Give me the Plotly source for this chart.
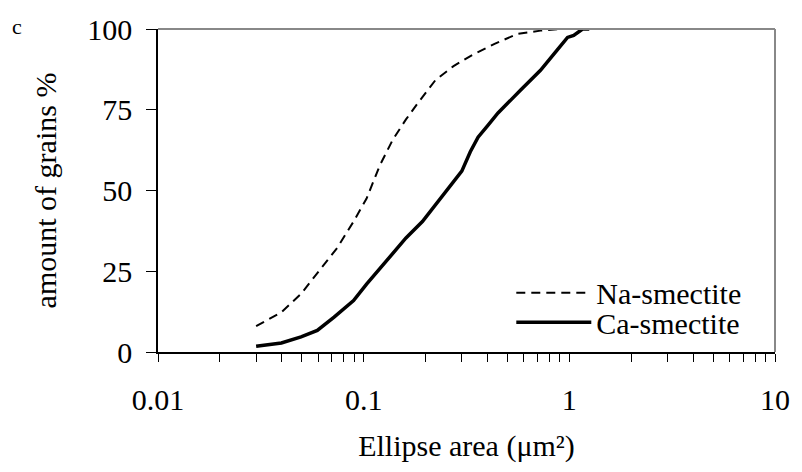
import plotly.graph_objects as go

# Data
na_x = [0.030, 0.0398, 0.0496, 0.0618, 0.0743, 0.0893, 0.1033, 0.1197, 0.1387, 0.1606,
        0.183, 0.2235, 0.2735, 0.338, 0.433, 0.56, 0.724, 0.9, 1.05]
na_y = [8, 12.3, 18, 25.6, 32.2, 40.4, 47.5, 57.7, 65.8, 72,
        77, 84.2, 88.5, 92, 95.4, 98.5, 99.5, 100, 100]

ca_x = [0.030, 0.0398, 0.0496, 0.0595, 0.0718, 0.0893, 0.1033, 0.1289, 0.1606, 0.193,
        0.2235, 0.2786, 0.30, 0.33, 0.36, 0.40, 0.45, 0.58, 0.724, 0.87,
        0.98, 1.05, 1.16, 1.25]
ca_y = [1.8, 2.8, 4.7, 6.7, 10.8, 15.9, 21, 28.1, 35.3, 40.4,
        45.5, 53, 56, 62, 66.5, 70, 74, 81.1, 87.2, 93.4,
        97.4, 98, 100, 100]

x_ticks = [0.01, 0.1, 1, 10]
x_tick_text = ["0.01", "0.1", "1", "10"]
y_ticks = [0, 25, 50, 75, 100]

FONT = "Liberation Serif"
FS = 30

fig = go.Figure()
fig.add_trace(go.Scatter(x=na_x, y=na_y, mode="lines", name="Na-smectite", legend="legend",
                         line=dict(color="black", width=2, dash="9px,6px")))
fig.add_trace(go.Scatter(x=ca_x, y=ca_y, mode="lines", name="Ca-smectite", legend="legend2",
                         line=dict(color="black", width=3.5)))

leg_common = dict(xanchor="left", yanchor="middle", bgcolor="rgba(0,0,0,0)",
                  itemwidth=75, font=dict(family=FONT, size=FS, color="black"))

fig.update_layout(
    width=802, height=472,
    margin=dict(l=158, r=17, t=25, b=120),
    paper_bgcolor="white", plot_bgcolor="white",
    font=dict(family=FONT, size=FS, color="black"),
    showlegend=True,
    legend=dict(x=0.5726, y=(352 - 292) / 327, **leg_common),
    legend2=dict(x=0.5726, y=(352 - 322) / 327, **leg_common),
    xaxis=dict(type="log", range=[-2, 1], tickvals=x_ticks, ticktext=x_tick_text,
               ticks="outside", ticklen=8, tickcolor="black", tickwidth=1,
               showline=True, linecolor="black", linewidth=1.5, mirror=False,
               showgrid=False, zeroline=False, ticklabelstandoff=12,
               minor=dict(ticks="outside", ticklen=8, tickcolor="black", dtick="D1", showgrid=False),
               title=dict(text="Ellipse area (μm²)", font=dict(family=FONT, size=FS), standoff=20)),
    yaxis=dict(range=[0, 100], tickvals=y_ticks,
               ticks="outside", ticklen=10, tickcolor="black", tickwidth=1,
               showline=True, linecolor="black", linewidth=1.5, mirror=False,
               showgrid=False, zeroline=False, ticklabelstandoff=8,
               title=dict(text="amount of grains %", font=dict(family=FONT, size=FS), standoff=22)),
    shapes=[
        dict(type="line", xref="paper", yref="paper", x0=0, x1=1, y0=1, y1=1,
             line=dict(color="#888888", width=2)),
        dict(type="line", xref="paper", yref="paper", x0=1, x1=1, y0=0, y1=1,
             line=dict(color="#888888", width=2)),
    ],
    annotations=[
        dict(text="c", xref="paper", yref="paper", x=-158/627 + 15/627, y=1 + 3/327,
             xanchor="center", yanchor="middle", showarrow=False,
             font=dict(family=FONT, size=22, color="black")),
    ],
)

fig.write_html("out.html")
